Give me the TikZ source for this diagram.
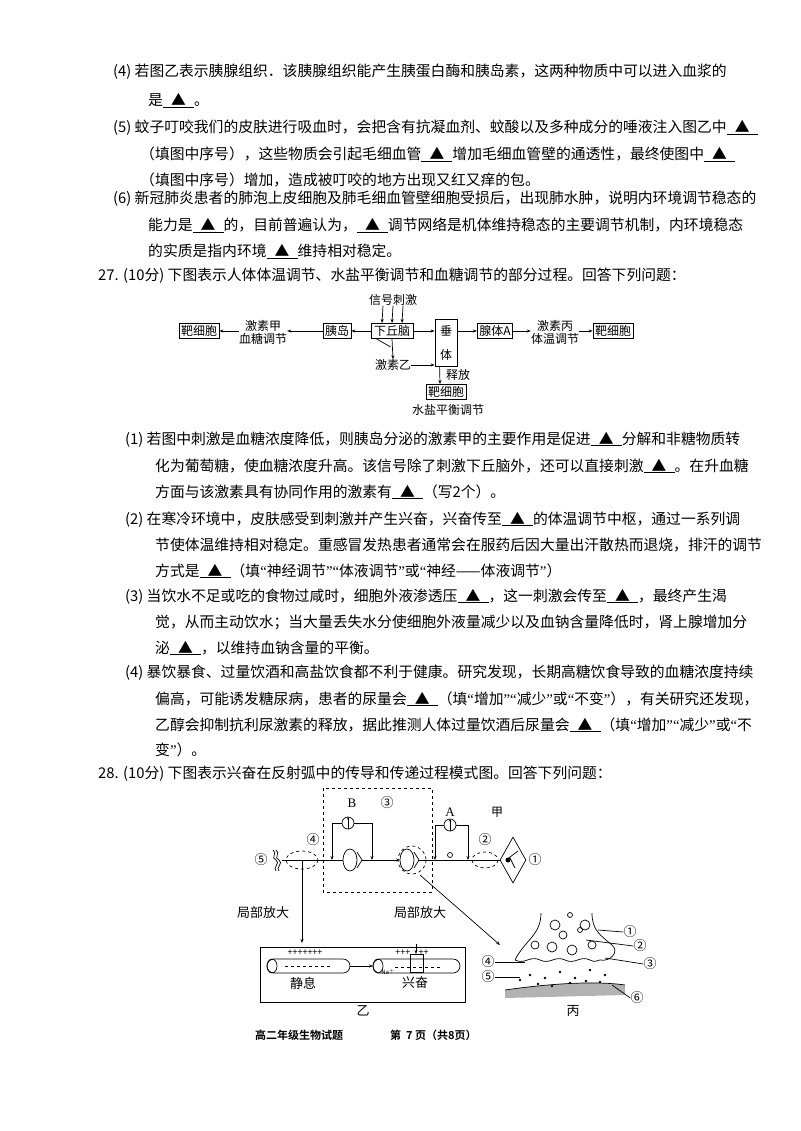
\documentclass[tikz,border=0pt]{standalone}
\usepackage{fontspec}
\setmainfont{Noto Sans CJK SC}[BoldFont={Noto Sans CJK SC Bold}]
\newfontfamily\ser{Liberation Serif}
\usetikzlibrary{arrows.meta,shapes.geometric}
\newcommand{\bk}{\underline{\hbox to 2.1em{\hss▲\hss}}}
\newcommand{\qo}{{\ser “}}
\newcommand{\qc}{{\ser ”}}
\begin{document}
\begin{tikzpicture}[x=1pt,y=-1pt,
 L/.style={anchor=base west,inner sep=0,font=\fontsize{14.8}{16}\selectfont},
 S/.style={inner sep=0,font=\fontsize{12}{13}\selectfont},
 bx/.style={draw,line width=0.8pt,inner sep=2pt,font=\fontsize{12}{13}\selectfont},
 ar/.style={-{Stealth[length=4pt,width=3pt]},line width=0.7pt},
 ln/.style={line width=0.7pt},
 ci/.style={inner sep=0,font=\fontsize{13}{14}\selectfont}]
\useasboundingbox (0,0) rectangle (800,1131);
\fill[white] (0,0) rectangle (800,1131);
% ---- top text
\node[L] (t1) at (113,77) {(4) 若图乙表示胰腺组织．该胰腺组织能产生胰蛋白酶和胰岛素，这两种物质中可以进入血浆的};
\node[L] (t2) at (148,106) {是\bk 。};
\node[L] (t3) at (113,133) {(5) 蚊子叮咬我们的皮肤进行吸血时，会把含有抗凝血剂、蚊酸以及多种成分的唾液注入图乙中\bk};
\node[L] (t4) at (140,160) {（填图中序号），这些物质会引起毛细血管\bk 增加毛细血管壁的通透性，最终使图中\bk};
\node[L] (t5) at (140,186) {（填图中序号）增加，造成被叮咬的地方出现又红又痒的包。};
\node[L] (t6) at (113,204) {(6) 新冠肺炎患者的肺泡上皮细胞及肺毛细血管壁细胞受损后，出现肺水肿，说明内环境调节稳态的};
\node[L] (t7) at (148,231) {能力是\bk 的，目前普遍认为，\bk 调节网络是机体维持稳态的主要调节机制，内环境稳态};
\node[L] (t8) at (148,257) {的实质是指内环境\bk 维持相对稳定。};
\node[L] (q27) at (98,281) {27. (10分) 下图表示人体体温调节、水盐平衡调节和血糖调节的部分过程。回答下列问题：};
% ---- diagram 27
\node[S] (sig) at (393,300) {信号刺激};
\node[bx] (b1) at (199,331) {靶细胞};
\node[S,align=center] (hj) at (263,332) {激素甲\\血糖调节};
\node[bx] (yd) at (337,331) {胰岛};
\node[bx,minimum width=42pt] (xq) at (392,331) {下丘脑};
\node[draw,line width=0.8pt,minimum width=22pt,minimum height=47pt,inner sep=0] (ct) at (446,343) {};
\node[S] (ct1) at (446,331) {垂};
\node[S] (ct2) at (446,355) {体};
\node[bx] (xt) at (495,331) {腺体A};
\node[S,align=center] (hb) at (555,332) {激素丙\\体温调节};
\node[bx] (b2) at (613,331) {靶细胞};
\node[S] (hy) at (393,365) {激素乙};
\node[S] (sf) at (458,375) {释放};
\node[bx] (b3) at (446,392) {靶细胞};
\node[S] (sy) at (448,410) {水盐平衡调节};
\foreach \dx in {-10,0,10} \draw[ar] ([xshift=\dx]sig.south) -- ([xshift=\dx]xq.north);
\draw[ar] (xq) -- (yd);
\draw[ar] (yd) -- (hj.east|-yd);
\draw[ar] (hj.west|-b1) -- (b1);
\draw[ar] (xq.east) -- (ct.west|-xq);
\draw[ar] (xq.south) -- (hy.north);
\draw[ln] (xq.south west)++(6,0) -- ++(14,8);
\draw[ar] (hy.east) -- (ct.west|-hy);
\draw[ar] (ct.east|-xt) -- (xt);
\draw[ar] (xt) -- (hb.west|-xt);
\draw[ar] (hb.east|-b2) -- (b2);
\draw[ar] (ct.south west)++(5,0) -- ([xshift=-6]b3.north);
% ---- Q27 text
\node[L] (u1) at (125,444) {(1) 若图中刺激是血糖浓度降低，则胰岛分泌的激素甲的主要作用是促进\bk 分解和非糖物质转};
\node[L] (u2) at (155,471) {化为葡萄糖，使血糖浓度升高。该信号除了刺激下丘脑外，还可以直接刺激\bk 。在升血糖};
\node[L] (u3) at (155,497) {方面与该激素具有协同作用的激素有\bk （写2个）。};
\node[L] (u4) at (125,524) {(2) 在寒冷环境中，皮肤感受到刺激并产生兴奋，兴奋传至\bk 的体温调节中枢，通过一系列调};
\node[L] (u5) at (155,550) {节使体温维持相对稳定。重感冒发热患者通常会在服药后因大量出汗散热而退烧，排汗的调节};
\node[L] (u6) at (155,576) {方式是\bk （填\qo 神经调节\qc\qo 体液调节\qc 或\qo 神经——体液调节\qc ）};
\node[L] (u7) at (125,601) {(3) 当饮水不足或吃的食物过咸时，细胞外液渗透压\bk ，这一刺激会传至\bk ，最终产生渴};
\node[L] (u8) at (155,627) {觉，从而主动饮水；当大量丢失水分使细胞外液量减少以及血钠含量降低时，肾上腺增加分};
\node[L] (u9) at (155,653) {泌\bk ，以维持血钠含量的平衡。};
\node[L] (u10) at (125,677) {(4) 暴饮暴食、过量饮酒和高盐饮食都不利于健康。研究发现，长期高糖饮食导致的血糖浓度持续};
\node[L] (u11) at (155,704) {偏高，可能诱发糖尿病，患者的尿量会\bk （填\qo 增加\qc\qo 减少\qc 或\qo 不变\qc ），有关研究还发现，};
\node[L] (u12) at (155,730) {乙醇会抑制抗利尿激素的释放，据此推测人体过量饮酒后尿量会\bk （填\qo 增加\qc\qo 减少\qc 或\qo 不};
\node[L] (u13) at (155,755) {变\qc ）。};
\node[L] (q28) at (98,778) {28. (10分) 下图表示兴奋在反射弧中的传导和传递过程模式图。回答下列问题：};
% ---- diagram 28
\draw[dashed,line width=0.7pt] (323,788) rectangle (432,892);
\node[S,font=\ser\fontsize{13}{14}\selectfont] (lB) at (352,803) {B};
\node[ci] (c3) at (387,803) {③};
\node[S,font=\ser\fontsize{13}{14}\selectfont] (lA) at (450,812) {A};
\node[S] (jia) at (497,812) {甲};
\node[draw,circle,minimum size=12pt,inner sep=0,line width=0.7pt] (mB) at (348,823) {};
\draw[-{Stealth[length=3pt]},line width=0.9pt] (mB.south) -- (mB.north);
\node[draw,circle,minimum size=12pt,inner sep=0,line width=0.7pt] (mA) at (450,825) {};
\draw[-{Stealth[length=3pt]},line width=0.9pt] (mA.south) -- (mA.north);
\draw[ln] (282,860) -- (343,860);
\draw[ar] (362,860) -- (400,860);
\draw[ln] (419,860) -- (500,860);
\draw[ln] (350,860) ellipse (7 and 11);
\draw[ln] (357,852) -- (362,860) -- (357,868);
\draw[ln] (407,860) ellipse (7 and 11);
\draw[ln] (414,852) -- (419,860) -- (414,868);
\draw[dashed,ln] (412,860) circle (14);
% meters
\draw[ln] (mB.west) -| (332,823);
\draw[ar] (332,823) -- (332,860);
\draw[ln] (mB.east) -| (372,823);
\draw[ar] (372,823) -- (372,860);
\draw[ln] (mA.west) -| (435,825);
\draw[ar] (435,825) -- (435,860);
\draw[ln] (mA.east) -| (468,825);
\draw[ar] (468,825) -- (468,860);
\draw[ln] (450,855) circle (2.5);
\draw[dashed,ln] (302,860) ellipse (16 and 9);
\node[ci] (c4) at (313,840) {④};
\draw[dashed,ln] (485,860) ellipse (13 and 8);
\node[ci] (c2) at (485,840) {②};
\node[draw,diamond,minimum width=26pt,minimum height=46pt,inner sep=0,line width=0.7pt] (dm) at (513,860) {};
\draw[ln] (506,860) -- (518,851) (510,858) -- (515,868);
\fill (508,860) circle (2.5);
\node[ci] (c1) at (535,860) {①};
\node[ci] (c5) at (261,860) {⑤};
\draw[ln] (273,850) .. controls (278,853) and (270,858) .. (276,860) .. controls (281,863) and (272,868) .. (276,871);
\draw[ln] (276,850) .. controls (281,853) and (273,858) .. (279,860) .. controls (284,863) and (275,868) .. (279,871);
\node[S,font=\fontsize{13}{14}\selectfont] (jb1) at (263,913) {局部放大};
\node[S,font=\fontsize{13}{14}\selectfont] (jb2) at (420,913) {局部放大};
\draw[ar] (302,860) -- (302,943);
\draw[ar] (420,875) -- (500,945);
% box 乙
\draw[line width=0.8pt] (260,947) rectangle (465,1002);
\draw[ln,rounded corners=7pt] (267,959) rectangle (350,973);
\draw[ln] (272,966) ellipse (5 and 7);
\node[S,font=\fontsize{9}{9}\selectfont] (pl1) at (305,953) {+++++++};
\draw[ln,dashed] (285,966) -- (330,966);
\draw[ar] (350,966) -- (373,966);
\draw[ln,rounded corners=7pt] (373,959) rectangle (460,973);
\draw[ln] (378,966) ellipse (5 and 7);
\node[S,font=\fontsize{9}{9}\selectfont] (pl2) at (412,953) {+++ \ \ \ ++};
\draw[ln] (410,954) rectangle (423,972);
\draw[ar] (416,944) -- (416,954);
\node[S,font=\fontsize{6}{6}\selectfont] (na) at (388,972) {Na$^+$};
\draw[ln,dashed] (395,967) -- (440,967);
\node[S,font=\fontsize{13}{14}\selectfont] (jx) at (303,983) {静息};
\node[S,font=\fontsize{13}{14}\selectfont] (xf) at (415,983) {兴奋};
\node[S,font=\fontsize{13}{14}\selectfont] (yi) at (363,1011) {乙};
% 丙
\draw[ln] (541,913) .. controls (541,935) and (525,940) .. (515,960);
\draw[ln] (592,913) .. controls (592,930) and (600,935) .. (612,945) .. controls (620,952) and (610,962) .. (600,960);
\draw[ln] (515,960) .. controls (525,965) and (530,955) .. (540,960) .. controls (550,965) and (555,955) .. (565,960) .. controls (575,965) and (580,955) .. (590,960) .. controls (595,963) and (598,960) .. (600,960);
\fill[gray!60] (505,990) .. controls (540,985) and (590,980) .. (625,985) -- (625,995) -- (505,998) -- cycle;
\draw[ln] (505,990) .. controls (540,985) and (590,980) .. (625,985);
\foreach \p in {(530,975),(545,978),(560,972),(575,978),(590,970),(605,975),(538,984),(552,986),(570,983),(586,981),(600,982),(520,980)} \fill \p circle (1.3);
\foreach \p/\r in {(535,945)/4,(552,947)/5,(572,950)/5,(592,945)/4,(563,935)/4,(580,930)/2.5,(585,925)/5,(555,925)/5,(570,915)/2.5} \draw[ln] \p circle (\r);
\node[ci] (d1) at (630,932) {①};
\node[ci] (d2) at (640,946) {②};
\node[ci] (d3) at (650,964) {③};
\node[ci] (d4) at (488,962) {④};
\node[ci] (d5) at (488,977) {⑤};
\node[ci] (d6) at (637,998) {⑥};
\draw[ln] (d1.west) -- (598,930);
\draw[ln] (d2.west) -- (586,940);
\draw[ln] (d3.west) -- (605,958);
\draw[ln] (d4.east) -- (525,962);
\draw[ln] (d5.east) -- (520,977);
\draw[ln] (d6.west) -- (612,985);
\node[S,font=\fontsize{13}{14}\selectfont] (bing) at (573,1011) {丙};
% footer
\node[S,font=\bfseries\fontsize{11}{12}\selectfont,anchor=west] (ft1) at (255,1035) {高二年级生物试题};
\node[S,font=\bfseries\fontsize{11}{12}\selectfont,anchor=west] (ft2) at (390,1035) {第\ \ 7 页（共8页）};
\end{tikzpicture}
\end{document}
